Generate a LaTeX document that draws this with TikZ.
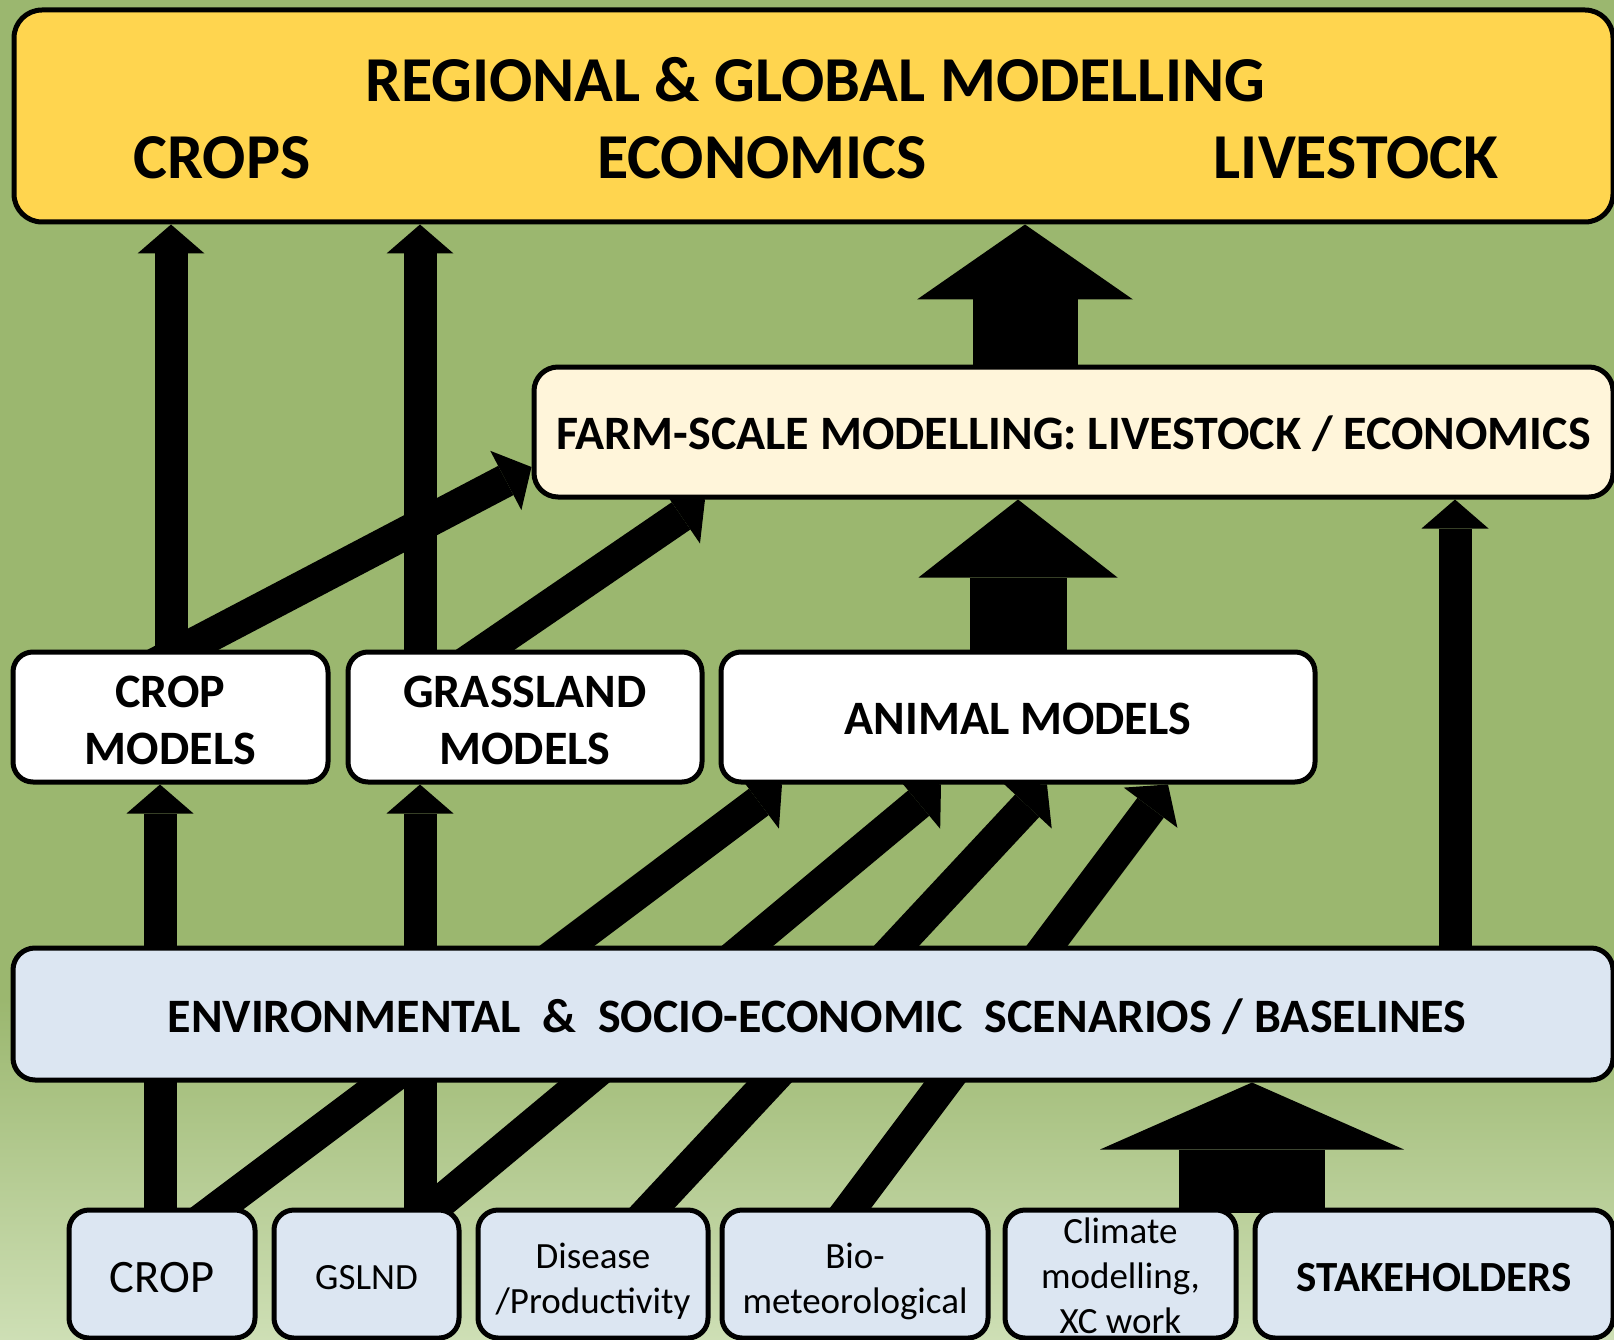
\documentclass[tikz,border=0pt]{standalone}
\usepackage{fontspec}
\setmainfont{Carlito}
\usetikzlibrary{arrows.meta,calc}

\definecolor{bggreen}{RGB}{155,183,111}
\definecolor{bglight}{RGB}{206,223,181}
\definecolor{gold}{RGB}{255,213,79}
\definecolor{cream}{RGB}{255,245,218}
\definecolor{paleblue}{RGB}{220,230,242}

\newcommand\fntTitle{\fontsize{64}{70}\selectfont\bfseries}
\newcommand\fntBox{\fontsize{48}{57}\selectfont\bfseries}
\newcommand\fntSmall{\fontsize{37}{45}\selectfont}
\newcommand\fntCrop{\fontsize{46.5}{55}\selectfont}
\newcommand\fntGs{\fontsize{37}{44}\selectfont}
\newcommand\fntStake{\fontsize{43}{49}\selectfont\bfseries}

\pgfdeclarelayer{backdrop}
\pgfdeclarelayer{links}
\pgfsetlayers{backdrop,links,main}

\begin{document}
\begin{tikzpicture}[x=1pt,y=-1pt,
  panel/.style={draw=black, line width=5pt, rectangle, inner sep=0pt, rounded corners=20pt},
  heading/.style={font=\fntTitle, anchor=base, inner sep=0pt},
  caption/.style={inner sep=0pt, align=center},
  linkarrow/.style={line width=33pt, -{Triangle[length=29pt,width=67pt,line width=0pt]}},
  blockfarm/.style={line width=105pt, -{Triangle[length=75pt,width=216pt,line width=0pt]}},
  blockanimal/.style={line width=97pt, -{Triangle[length=78pt,width=199pt,line width=0pt]}},
  blockbase/.style={line width=146pt, -{Triangle[length=67pt,width=304pt,line width=0pt]}},
]
\useasboundingbox (0,0) rectangle (1614,1340);

% background
\begin{pgfonlayer}{backdrop}
  \fill[bggreen] (0,0) rectangle (1614,1000);
  \shade[top color=bggreen, bottom color=bglight] (0,999) rectangle (1614,1340);
\end{pgfonlayer}

% regional & global level
\node[panel, fill=gold, rounded corners=28pt, minimum width=1599pt, minimum height=212pt] (top) at (813.5,116) {};
\node[heading] (regional) at (815,102) {REGIONAL \& GLOBAL MODELLING};
\node[heading] (crops) at (222,179) {CROPS};
\node[heading] (economics) at (762,179) {ECONOMICS};
\node[heading] (livestock) at (1356,179) {LIVESTOCK};

% farm scale
\node[panel, fill=cream, rounded corners=24pt, minimum width=1079pt, minimum height=130pt,
      font=\fntBox, text height=34pt, text depth=0pt] (farm) at (1073.5,432)
      {FARM-SCALE MODELLING: LIVESTOCK / ECONOMICS};

% process models
\node[panel, fill=white, minimum width=315pt, minimum height=130pt] (cropm) at (170.5,717) {};
\node[caption, font=\fntBox] (cropm-text) at ($(cropm.center)+(0,3)$) {CROP\\MODELS};
\node[panel, fill=white, minimum width=354pt, minimum height=130pt] (grassm) at (525,717) {};
\node[caption, font=\fntBox] (grassm-text) at ($(grassm.center)+(0,3)$) {GRASSLAND\\MODELS};
\node[panel, fill=white, minimum width=594pt, minimum height=130pt, font=\fntBox,
      text height=34pt, text depth=0pt] (animal) at (1018,717) {ANIMAL MODELS};

% scenarios
\node[panel, fill=paleblue, rounded corners=22pt, minimum width=1600pt, minimum height=132pt] (env) at (813,1014) {};
\node[font=\fntBox, inner sep=0pt, text height=36pt, text depth=0pt] (env-text) at ($(env.center)+(4,0)$)
      {ENVIRONMENTAL\ \ \&\ \ SOCIO-ECONOMIC\ \ SCENARIOS / BASELINES};

% inputs
\node[panel, fill=paleblue, minimum width=186pt, minimum height=128pt, font=\fntCrop,
      text height=37.5pt, text depth=0pt] (crop) at (162,1274) {CROP};
\node[panel, fill=paleblue, minimum width=185pt, minimum height=128pt, font=\fntGs,
      text height=31pt, text depth=0pt] (gslnd) at (366.5,1274) {GSLND};
\node[panel, fill=paleblue, minimum width=230pt, minimum height=128pt] (disease) at (593,1274) {};
\node[caption, font=\fntSmall] (disease-text) at ($(disease.center)+(0,7)$) {Disease\\/Productivity};
\node[panel, fill=paleblue, minimum width=266pt, minimum height=128pt] (bio) at (855,1274) {};
\node[caption, font=\fntSmall] (bio-text) at ($(bio.center)+(0,7)$) {Bio-\\meteorological};
\node[panel, fill=paleblue, minimum width=231pt, minimum height=128pt] (climate) at (1120.5,1274) {};
\node[caption, font=\fntSmall] (climate-text) at ($(climate.center)+(0,2)$) {Climate\\modelling,\\XC work};
\node[panel, fill=paleblue, minimum width=358pt, minimum height=128pt, font=\fntStake,
      text height=34pt, text depth=0pt] (stake) at (1434,1274) {STAKEHOLDERS};

% connectors, drawn beneath the panels
\begin{pgfonlayer}{links}
  % up to the regional level
  \draw[linkarrow] ($(cropm.center)+(0.5,0)$) -- ($(cropm.center |- top.south)+(0.5,0)$);
  \draw[linkarrow] ($(grassm.center)+(-105,0)$) -- ($(grassm.center |- top.south)+(-105,0)$);
  \draw[blockfarm] ($(farm.center)+(-48.5,0)$) -- ($(farm.center |- top.south)+(-48.5,0)$);
  % into the farm-scale model
  \draw[linkarrow] ($(cropm.center)+(-27,-46.5)$) -- ($(farm.west)+(0,35)$);
  \draw[linkarrow] ($(grassm.center)+(-76,-42.4)$) -- ($(farm.south west)+(173.5,0)$);
  \draw[blockanimal] (animal.center) -- (animal.center |- farm.south);
  \draw[linkarrow] ($(env.center)+(642,0)$) -- ($(env.center |- farm.south)+(642,0)$);
  % from the inputs to the process models
  \draw[linkarrow] ($(crop.center)+(-2,0)$) -- ($(crop.center |- cropm.south)+(-2,0)$);
  \draw[linkarrow] ($(gslnd.center)+(53.5,0)$) -- ($(gslnd.center |- grassm.south)+(53.5,0)$);
  \draw[linkarrow] ($(crop.center)+(21,-40)$) -- ($(animal.south west)+(63.5,0)$);
  \draw[linkarrow] ($(gslnd.center)+(33,-38)$) -- ($(animal.south west)+(222.5,0)$);
  \draw[linkarrow] ($(disease.center)+(30,-35)$) -- ($(animal.south west)+(328.5,0)$);
  \draw[linkarrow] ($(bio.center)+(-30,-32)$) -- ($(animal.south west)+(449.5,0)$);
  % climate work and stakeholders feed the scenarios
  \draw[blockbase] ($(climate.north)+(131.5,5.5)$) -- ($(climate.north |- env.south)+(131.5,0)$);
\end{pgfonlayer}
\end{tikzpicture}
\end{document}
